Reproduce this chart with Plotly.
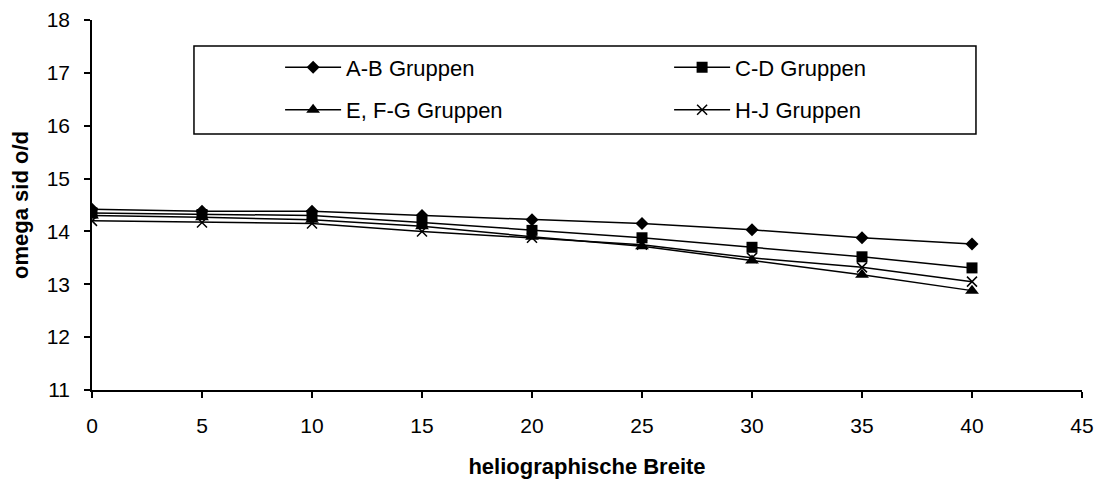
import plotly.graph_objects as go

# heliographic latitude (degrees)
breite = [0, 5, 10, 15, 20, 25, 30, 35, 40]

# sidereal rotation rate per group
ab_gruppen = [14.42, 14.38, 14.38, 14.30, 14.22, 14.15, 14.03, 13.88, 13.76]
cd_gruppen = [14.35, 14.32, 14.30, 14.17, 14.02, 13.88, 13.70, 13.52, 13.31]
efg_gruppen = [14.30, 14.27, 14.22, 14.10, 13.90, 13.72, 13.45, 13.18, 12.88]
hj_gruppen = [14.20, 14.17, 14.15, 14.00, 13.88, 13.75, 13.50, 13.32, 13.05]

names = ["A-B Gruppen", "C-D Gruppen", "E, F-G Gruppen", "H-J Gruppen"]

FONT = "Liberation Sans, Arial, sans-serif"
BLACK = "#000000"

series = [
    (names[0], ab_gruppen, dict(symbol="diamond", size=10), "legend"),
    (names[1], cd_gruppen, dict(symbol="square", size=11), "legend"),
    (names[2], efg_gruppen, dict(symbol="triangle-up", size=12), "legend2"),
    (names[3], hj_gruppen, dict(symbol="x-thin", size=10,
                               line=dict(color=BLACK, width=1.5)), "legend2"),
]

fig = go.Figure()
for name, vals, marker, leg in series:
    fig.add_trace(go.Scatter(
        x=breite, y=vals, name=name, mode="lines+markers",
        line=dict(color=BLACK, width=1.5),
        marker=dict(color=BLACK, **marker),
        legend=leg,
    ))

legend_common = dict(
    orientation="h", xanchor="left", yanchor="middle",
    bgcolor="rgba(0,0,0,0)", borderwidth=0,
    font=dict(family=FONT, size=22, color=BLACK),
    itemwidth=56, entrywidth=318, entrywidthmode="pixels",
    itemclick=False, itemdoubleclick=False,
)

fig.update_layout(
    width=1104, height=481,
    margin=dict(l=92, r=22, t=20, b=91),
    paper_bgcolor="white", plot_bgcolor="white",
    font=dict(family=FONT, size=20, color=BLACK),
    showlegend=True,
    legend=dict(x=0.190, y=0.872, **legend_common),
    legend2=dict(x=0.190, y=0.757, **legend_common),
    shapes=[dict(
        type="rect", xref="paper", yref="paper",
        x0=0.1030, x1=0.8929, y0=0.6919, y1=0.9297,
        line=dict(color=BLACK, width=1.5), fillcolor="rgba(0,0,0,0)",
        layer="below",
    )],
    xaxis=dict(
        range=[0, 45], dtick=5, tick0=0, automargin=False,
        showline=True, linecolor=BLACK, linewidth=1.5,
        ticks="outside", ticklen=6, tickcolor=BLACK, tickwidth=1.5,
        ticklabelstandoff=10,
        showgrid=False, zeroline=False,
        tickfont=dict(family=FONT, size=21, color=BLACK),
        title=dict(text="<b>heliographische Breite</b>", standoff=23,
                   font=dict(family=FONT, size=22, color=BLACK)),
    ),
    yaxis=dict(
        range=[11, 18], dtick=1, tick0=11, automargin=False,
        showline=True, linecolor=BLACK, linewidth=1.5,
        ticks="outside", ticklen=6, tickcolor=BLACK, tickwidth=1.5,
        ticklabelstandoff=10,
        showgrid=False, zeroline=False,
        tickfont=dict(family=FONT, size=21, color=BLACK),
        title=dict(text="<b>omega sid o/d</b>", standoff=12,
                   font=dict(family=FONT, size=22, color=BLACK)),
    ),
)

fig.write_html("out.html")
